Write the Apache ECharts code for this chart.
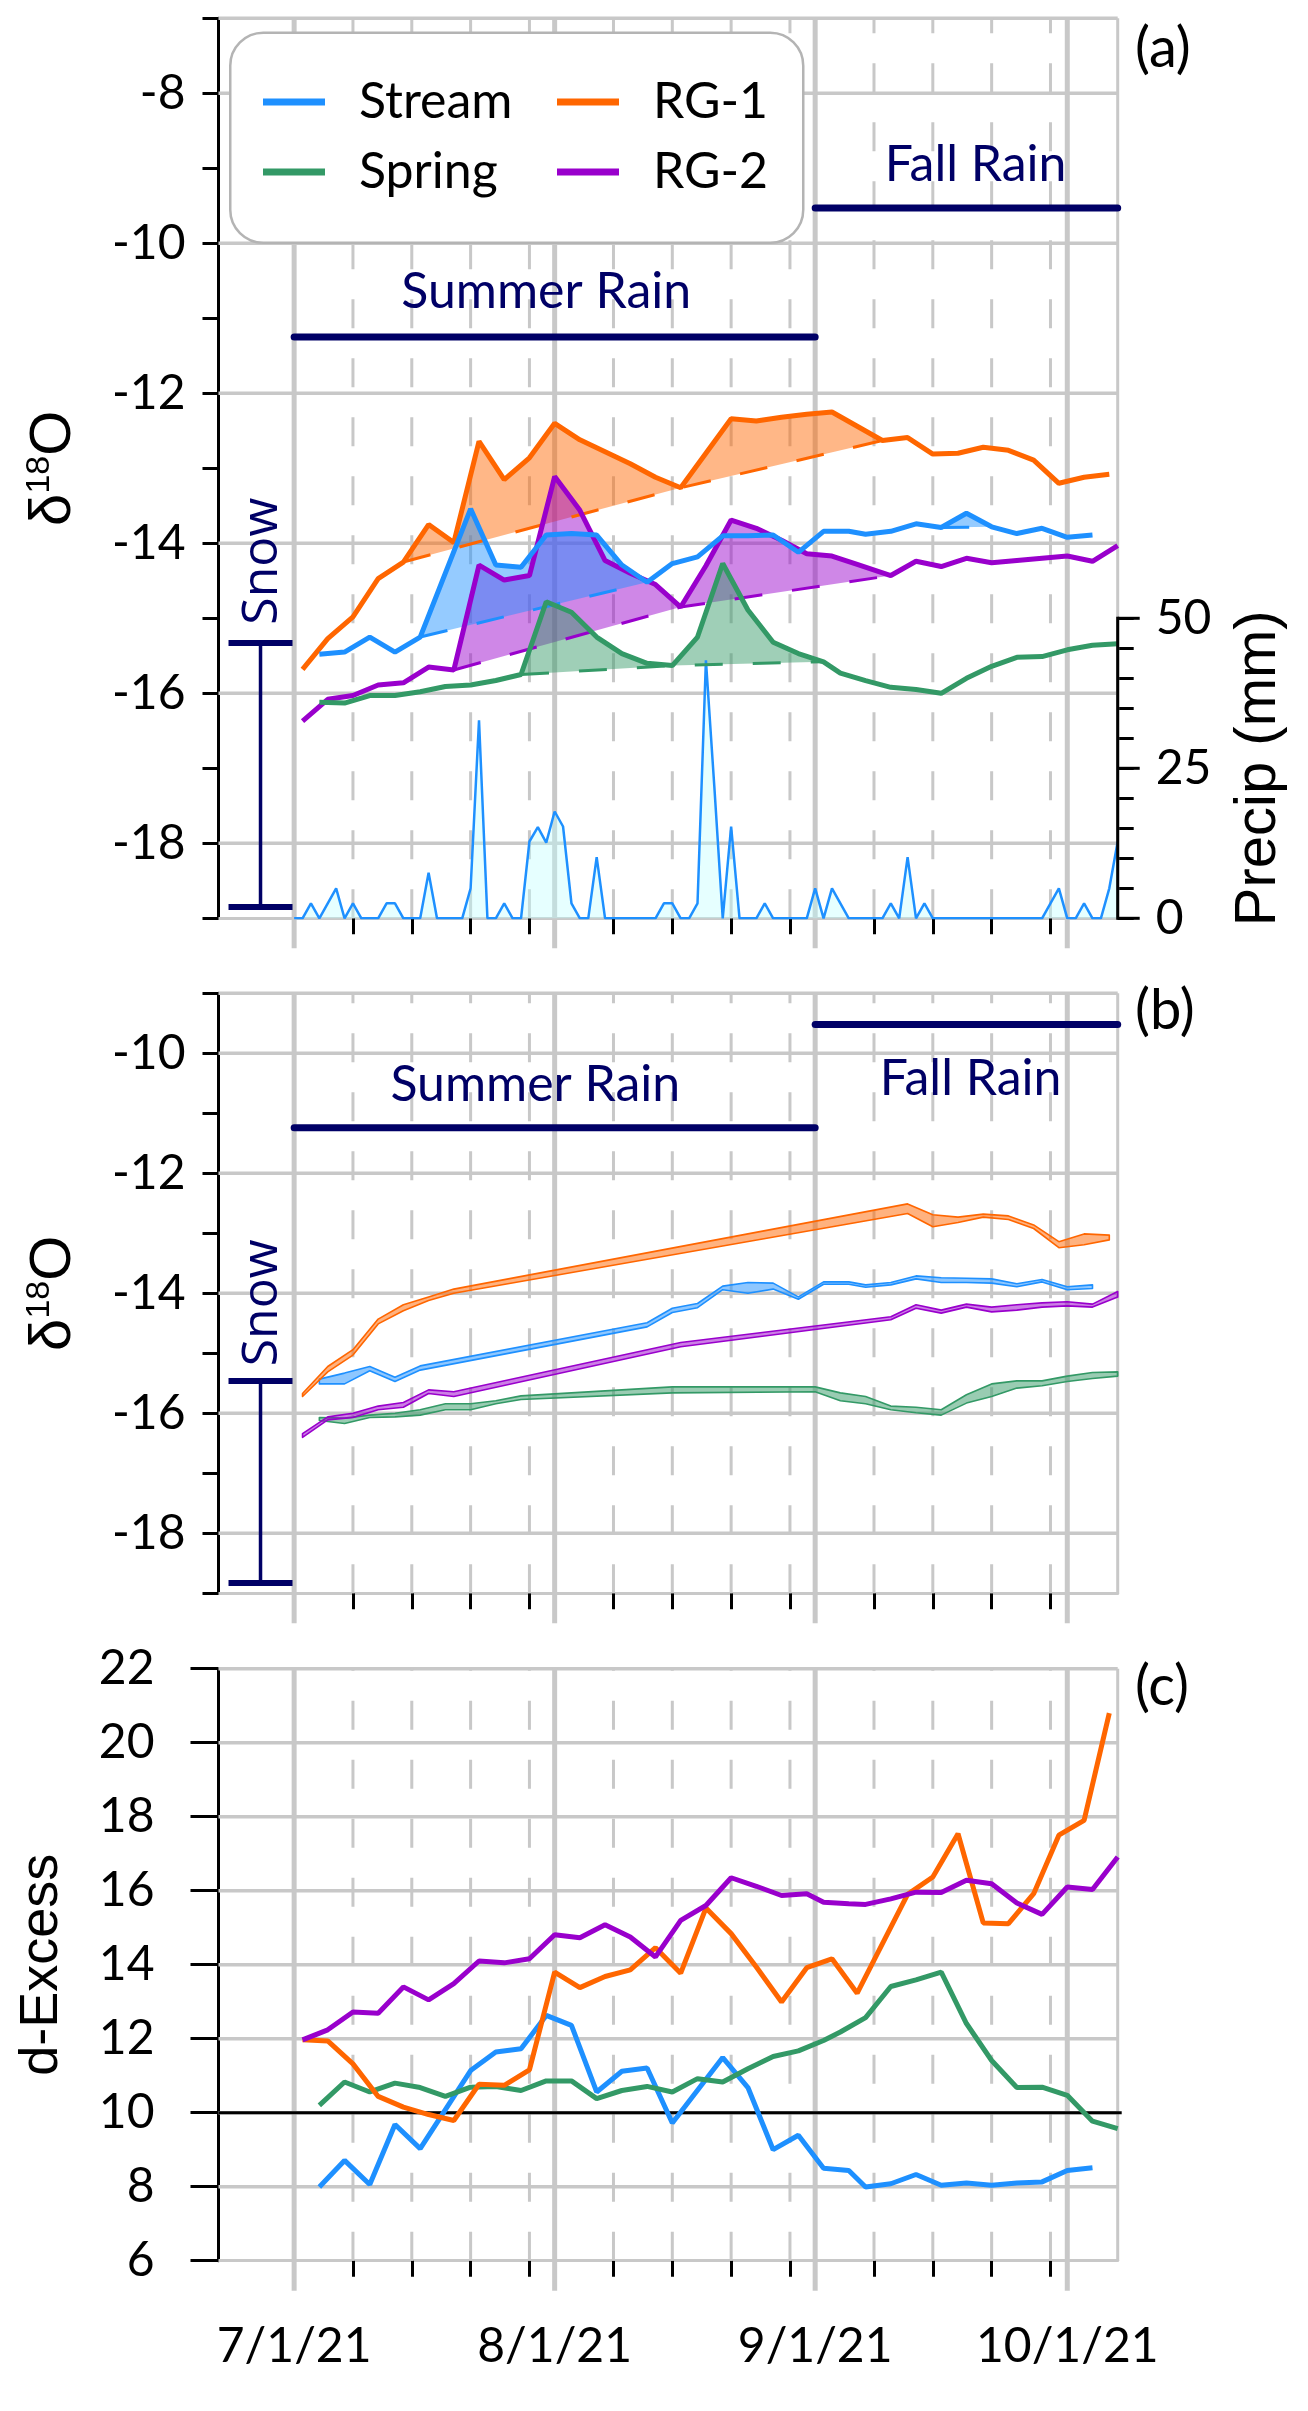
<!DOCTYPE html>
<html><head><meta charset="utf-8">
<script src="https://cdn.jsdelivr.net/npm/echarts@6/dist/echarts.min.js"></script>
<style>html,body{margin:0;padding:0;background:#fff}#chart{width:1308px;height:2411px}</style>
</head><body><div id="chart"></div>
<script>
// ---------- DATA (day 0 = 7/1/21) ----------
const monthDays = [0, 31, 62, 92];
const monthLabels = ['7/1/21', '8/1/21', '9/1/21', '10/1/21'];
const weekTicks = [7, 14, 21, 28, 38, 45, 52, 59, 69, 76, 83, 90];

// Panel (a) d18O
const streamDaysA = [3,6,9,12,15,21,24,27,30,33,36,39,42,45,48,51,54,57,60,63,66,68,71,74,77,80,83,86,89,92,95];
const streamA = [-15.48,-15.45,-15.25,-15.45,-15.25,-13.54,-14.29,-14.32,-13.89,-13.87,-13.89,-14.29,-14.52,-14.27,-14.18,-13.90,-13.90,-13.89,-14.12,-13.84,-13.84,-13.88,-13.84,-13.74,-13.79,-13.60,-13.78,-13.87,-13.80,-13.92,-13.89];
const rg1DaysA = [1,4,7,10,13,16,19,22,25,28,31,34,37,40,43,46,49,52,55,58,61,64,67,70,73,76,79,82,85,88,91,94,97];
const rg1A = [-15.68,-15.27,-14.98,-14.47,-14.25,-13.75,-13.99,-12.64,-13.15,-12.86,-12.40,-12.62,-12.78,-12.94,-13.12,-13.26,-12.80,-12.34,-12.37,-12.32,-12.28,-12.25,-12.44,-12.63,-12.59,-12.81,-12.80,-12.72,-12.76,-12.89,-13.20,-13.12,-13.08];
const rg2DaysA = [1,4,7,10,13,16,19,22,25,28,31,34,37,40,43,46,49,52,55,58,61,64,67,71,74,77,80,83,86,89,92,95,98];
const rg2A = [-16.37,-16.08,-16.03,-15.89,-15.86,-15.65,-15.69,-14.29,-14.49,-14.43,-13.11,-13.56,-14.23,-14.40,-14.55,-14.85,-14.30,-13.69,-13.80,-13.96,-14.14,-14.17,-14.28,-14.43,-14.24,-14.31,-14.20,-14.26,-14.23,-14.20,-14.17,-14.24,-14.03];
const springDaysA = [3,6,9,12,15,18,21,24,27,30,33,36,39,42,45,48,51,54,57,60,63,65,68,71,74,77,80,83,86,89,92,95,98];
const springA = [-16.12,-16.13,-16.03,-16.03,-15.98,-15.91,-15.89,-15.83,-15.75,-14.78,-14.92,-15.25,-15.47,-15.60,-15.63,-15.25,-14.27,-14.89,-15.32,-15.47,-15.58,-15.73,-15.83,-15.92,-15.95,-16.00,-15.80,-15.64,-15.52,-15.51,-15.42,-15.36,-15.34];

// Panel (a) pre-event baselines (dashed)
const rg1BaseDays = [13, 46, 70];   const rg1BaseA = [-14.25, -13.26, -12.63];
const rg2BaseDays = [19, 46, 71];   const rg2BaseA = [-15.69, -14.85, -14.43];
const streamBase1Days = [15, 42];   const streamBase1A = [-15.25, -14.52];
const streamBase2Days = [77, 83];   const streamBase2A = [-13.79, -13.78];
const springBaseDays = [27, 45, 63]; const springBaseA = [-15.75, -15.63, -15.58];

// Daily precipitation (mm), day 0..98
const precip = [0,0,2.5,0,2.5,5,0,2.5,0,0,
  0,2.5,2.5,0,0,0,7.6,0,0,0,
  0,5,33,0,0,2.5,0,0,12.8,15.2,
  12.6,17.8,15.3,2.5,0,0,10.2,0,0,0,
  0,0,0,0,2.5,2.5,0,0,2.5,43,
  22,0,15.3,0,0,0,2.5,0,0,0,
  0,0,5,0,5,2.5,0,0,0,0,
  0,2.5,0,10.2,0,2.5,0,0,0,0,
  0,0,0,0,0,0,0,0,0,0,
  2.5,5,0,0,2.5,0,0,5,12.8];
const precipTicks = [0,5,10,15,20,25,30,35,40,45,50];
const precipLabels = [0, 25, 50];

// Panel (b) event-removed bands (upper / lower)
const rg1DaysB = [1,4,7,10,13,16,19,73,76,79,82,85,88,91,94,97];
const rg1UpB = [-15.67,-15.22,-14.94,-14.43,-14.19,-14.06,-13.93,-12.51,-12.69,-12.73,-12.68,-12.71,-12.86,-13.14,-13.01,-13.03];
const rg1LoB = [-15.72,-15.31,-15.03,-14.51,-14.29,-14.12,-14.00,-12.67,-12.89,-12.82,-12.73,-12.77,-12.92,-13.24,-13.19,-13.11];
const streamDaysB = [3,6,9,12,15,42,45,48,51,54,57,60,63,66,68,71,74,77,80,83,86,89,92,95];
const streamUpB = [-15.43,-15.33,-15.22,-15.40,-15.21,-14.49,-14.25,-14.17,-13.88,-13.82,-13.83,-14.06,-13.81,-13.81,-13.86,-13.82,-13.71,-13.74,-13.75,-13.76,-13.84,-13.77,-13.89,-13.86];
const streamLoB = [-15.51,-15.51,-15.29,-15.47,-15.28,-14.56,-14.32,-14.24,-13.94,-14.00,-13.93,-14.10,-13.85,-13.85,-13.90,-13.86,-13.76,-13.82,-13.82,-13.83,-13.89,-13.81,-13.94,-13.92];
const rg2DaysB = [1,4,7,10,13,16,19,46,71,74,77,80,83,86,89,92,95,98];
const rg2UpB = [-16.34,-16.06,-16.00,-15.88,-15.82,-15.61,-15.64,-14.82,-14.39,-14.19,-14.28,-14.18,-14.23,-14.19,-14.16,-14.14,-14.18,-13.97];
const rg2LoB = [-16.40,-16.11,-16.07,-15.94,-15.90,-15.67,-15.72,-14.89,-14.44,-14.25,-14.33,-14.23,-14.31,-14.28,-14.23,-14.21,-14.23,-14.06];
const springDaysB = [3,6,9,12,15,18,21,24,27,45,62,65,68,71,74,77,80,83,86,89,92,95,98];
const springUpB = [-16.07,-16.08,-16.03,-16.00,-15.94,-15.84,-15.84,-15.79,-15.71,-15.56,-15.56,-15.66,-15.72,-15.88,-15.90,-15.94,-15.69,-15.51,-15.46,-15.46,-15.38,-15.32,-15.31];
const springLoB = [-16.12,-16.17,-16.07,-16.06,-16.03,-15.94,-15.94,-15.84,-15.77,-15.66,-15.64,-15.79,-15.84,-15.94,-15.99,-16.03,-15.83,-15.72,-15.58,-15.54,-15.47,-15.42,-15.38];

// Panel (c) d-excess
const streamDaysC = [3,6,9,12,15,21,24,27,30,33,36,39,42,45,51,54,57,60,63,66,68,71,74,77,80,83,86,89,92,95];
const streamC = [7.99,8.71,8.06,9.68,9.03,11.14,11.64,11.73,12.63,12.36,10.56,11.12,11.21,9.72,11.49,10.68,9.00,9.39,8.50,8.44,7.99,8.08,8.33,8.04,8.10,8.04,8.10,8.13,8.44,8.51];
const springDaysC = [3,6,9,12,15,18,21,24,27,30,33,36,39,42,45,48,51,54,57,60,63,65,68,71,74,77,80,83,86,89,92,95,98];
const springC = [10.20,10.83,10.56,10.80,10.68,10.44,10.69,10.71,10.60,10.86,10.86,10.38,10.60,10.71,10.56,10.92,10.83,11.19,11.52,11.67,11.95,12.18,12.57,13.41,13.59,13.80,12.41,11.41,10.68,10.69,10.47,9.77,9.57];
const rg1DaysC = [1,4,7,10,13,16,19,22,25,28,31,34,37,40,43,46,49,52,55,58,61,64,67,73,76,79,82,85,88,91,94,97];
const rg1C = [11.97,11.94,11.32,10.44,10.15,9.95,9.79,10.77,10.74,11.16,13.80,13.38,13.68,13.86,14.46,13.77,15.53,14.84,13.94,12.99,13.92,14.16,13.23,15.90,16.37,17.54,15.13,15.11,15.92,17.50,17.90,20.80];
const rg2DaysC = [1,4,7,10,13,16,19,22,25,28,31,34,37,40,43,46,49,52,55,58,61,63,66,68,71,74,77,80,83,86,89,92,95,98];
const rg2C = [11.97,12.24,12.72,12.69,13.40,13.05,13.49,14.10,14.05,14.16,14.81,14.73,15.08,14.75,14.21,15.20,15.60,16.35,16.12,15.87,15.92,15.69,15.65,15.63,15.78,15.96,15.95,16.28,16.19,15.67,15.36,16.10,16.03,16.91];
const dExcessRef = 10;

// Annotations
const seasonNames = ['Summer Rain', 'Fall Rain'];
const seasonStart = [0, 62];
const seasonEnd = [62, 98];
const snowDay = -4;
const snowRangeA = [-18.85, -15.33];
const snowRangeB = [-18.83, -15.46];

// ---------- STYLE ----------
const FONT = 'Lato, "Open Sans", sans-serif';
const SANS = '"Liberation Sans", Arial, sans-serif';
const NAVY = '#000066';
const GRID_C = '#c8c8c8';
const COL = {stream: '#1e90ff', spring: '#339966', rg1: '#ff6600', rg2: '#9900cc'};
const X_MIN = -9, X_MAX = 98;

function rgba(hex, a) {
  const n = parseInt(hex.slice(1), 16);
  return 'rgba(' + ((n >> 16) & 255) + ',' + ((n >> 8) & 255) + ',' + (n & 255) + ',' + a + ')';
}
function pairs(d, v) { return d.map((x, i) => [x, v[i]]); }
function ln(x1, y1, x2, y2, stroke, w, dash) {
  const s = {stroke: stroke, lineWidth: w};
  if (dash) s.lineDash = dash;
  return {type: 'line', shape: {x1, y1, x2, y2}, style: s};
}
function txt(x, y, text, opts) {
  return {type: 'text', x: x, y: y, rotation: opts.rot || 0,
    style: {text: text, fill: opts.color || '#000', fontSize: opts.size, fontFamily: opts.family,
      align: 'center', verticalAlign: 'middle', textAlign: 'center', textVerticalAlign: 'middle'}};
}

function decor(gi, yi, yMin, hVals, refVal) {
  return {type: 'custom', xAxisIndex: gi, yAxisIndex: yi, silent: true, clip: false, z: 1,
    data: [[X_MIN, yMin]],
    renderItem: function (p, api) {
      const cs = p.coordSys, top = cs.y, bot = cs.y + cs.height, L = cs.x, R = cs.x + cs.width;
      const ch = [];
      hVals.forEach(v => { const y = api.coord([X_MIN, v])[1]; ch.push(ln(L, y, R, y, GRID_C, 3.5)); });
      weekTicks.forEach(d => { const x = api.coord([d, yMin])[0]; ch.push(ln(x, bot, x, top, GRID_C, 3, [29, 30])); });
      monthDays.forEach(d => { const x = api.coord([d, yMin])[0]; ch.push(ln(x, top, x, bot + 30, GRID_C, 5)); });
      ch.push(ln(R, top, R, bot, GRID_C, 3));
      if (refVal != null) { const y = api.coord([X_MIN, refVal])[1]; ch.push(ln(L, y, R + 4, y, '#000', 3)); }
      return {type: 'group', children: ch};
    }};
}
function lineS(name, gi, yi, days, vals, color, width) {
  return {type: 'line', name: name, xAxisIndex: gi, yAxisIndex: yi, data: pairs(days, vals),
    symbol: 'none', silent: true, lineStyle: {color: color, width: width}, itemStyle: {color: color}, z: 2};
}
function dashS(gi, yi, days, vals, color) {
  return {type: 'line', xAxisIndex: gi, yAxisIndex: yi, data: pairs(days, vals), symbol: 'none', silent: true,
    lineStyle: {color: color, width: 3, type: [28, 30]}, z: 2};
}
function eventFill(gi, yi, days, vals, bDays, bVals, color) {
  return {type: 'custom', xAxisIndex: gi, yAxisIndex: yi, silent: true, z: 2,
    data: [[bDays[0], bVals[0]]],
    renderItem: function (p, api) {
      const s = bDays[0], e = bDays[bDays.length - 1], pts = [];
      days.forEach((d, i) => { if (d >= s && d <= e) pts.push(api.coord([d, vals[i]])); });
      for (let j = bDays.length - 1; j >= 0; j--) pts.push(api.coord([bDays[j], bVals[j]]));
      return {type: 'polygon', shape: {points: pts}, style: {fill: rgba(color, 0.47)}};
    }};
}
function band(gi, yi, days, up, lo, color) {
  return {type: 'custom', xAxisIndex: gi, yAxisIndex: yi, silent: true, z: 2,
    data: [[days[0], up[0]]],
    renderItem: function (p, api) {
      const pts = [];
      days.forEach((d, i) => pts.push(api.coord([d, up[i]])));
      for (let j = days.length - 1; j >= 0; j--) pts.push(api.coord([days[j], lo[j]]));
      return {type: 'polygon', shape: {points: pts}, style: {fill: rgba(color, 0.5), stroke: color, lineWidth: 1.6, lineJoin: 'round'}};
    }};
}
function annot(gi, yi, barY, labelPos, snowRange, snowTextY) {
  return {type: 'custom', xAxisIndex: gi, yAxisIndex: yi, silent: true, clip: false, z: 3,
    data: [[snowDay, snowRange[0]]],
    renderItem: function (p, api) {
      const ch = [];
      seasonNames.forEach((nm, i) => {
        const a = api.coord([seasonStart[i], barY[i]]), b = api.coord([seasonEnd[i], barY[i]]);
        const s = ln(a[0], a[1], b[0], b[1], NAVY, 7); s.style.lineCap = 'round'; ch.push(s);
        const t = api.coord(labelPos[i]);
        ch.push(txt(t[0], t[1], nm, {size: 50, family: FONT, color: NAVY}));
      });
      const lo = api.coord([snowDay, snowRange[0]]), hi = api.coord([snowDay, snowRange[1]]);
      ch.push(ln(lo[0], lo[1], hi[0], hi[1], NAVY, 3.5));
      ch.push(ln(lo[0] - 32, lo[1], lo[0] + 32, lo[1], NAVY, 6));
      ch.push(ln(hi[0] - 32, hi[1], hi[0] + 32, hi[1], NAVY, 6));
      const st = api.coord([snowDay, snowTextY]);
      ch.push(txt(st[0] + 2, st[1], 'Snow', {size: 50, family: '"Open Sans", sans-serif', color: NAVY, rot: Math.PI / 2}));
      return {type: 'group', children: ch};
    }};
}

const labelStyle = {fontSize: 48, fontFamily: FONT, color: '#000'};
function xAx(gi, showLab) {
  return {type: 'value', gridIndex: gi, min: X_MIN, max: X_MAX,
    axisLine: {show: true, onZero: false, lineStyle: {color: GRID_C, width: 3}},
    axisTick: {show: true, customValues: weekTicks, length: 16, lineStyle: {color: '#000', width: 3}},
    axisLabel: Object.assign({show: showLab, customValues: monthDays, margin: 62,
      formatter: v => { const k = monthDays.indexOf(v); return k >= 0 ? monthLabels[k] : ''; }}, labelStyle),
    splitLine: {show: false}};
}
const deltaName = {name: '{n|δ}{s|18}{n|O}', nameLocation: 'middle', nameGap: 134,
  nameTextStyle: {fontFamily: SANS, fontSize: 58, color: '#000',
    rich: {n: {fontFamily: SANS, fontSize: 58, color: '#000', lineHeight: 62},
           s: {fontFamily: SANS, fontSize: 34, color: '#000', lineHeight: 34, verticalAlign: 'top'}}}};

const option = {
  animation: false,
  backgroundColor: '#fff',
  title: [
    {text: '(a)', left: 1130, top: 16, textStyle: {fontSize: 56, fontFamily: FONT, fontWeight: 'normal', color: '#000'}},
    {text: '(b)', left: 1130, top: 978, textStyle: {fontSize: 56, fontFamily: FONT, fontWeight: 'normal', color: '#000'}},
    {text: '(c)', left: 1130, top: 1654, textStyle: {fontSize: 56, fontFamily: FONT, fontWeight: 'normal', color: '#000'}}
  ],
  grid: [
    {left: 218.5, top: 18.3, width: 899.2, height: 900, outerBoundsMode: 'none'},
    {left: 218.5, top: 993.3, width: 899.2, height: 600, outerBoundsMode: 'none'},
    {left: 218.5, top: 1668.7, width: 899.2, height: 592, outerBoundsMode: 'none'}
  ],
  legend: [
    {data: [{name: 'Stream', itemStyle: {color: COL.stream}}, {name: 'Spring', itemStyle: {color: COL.spring}}],
     orient: 'vertical', left: 263, top: 74, padding: 0, itemWidth: 62, itemHeight: 7, icon: 'rect', itemGap: 14,
     selectedMode: false, z: 20, textStyle: {fontSize: 50, fontFamily: FONT, color: '#000', lineHeight: 56, padding: [0, 0, 0, 29]}},
    {data: [{name: 'RG-1', itemStyle: {color: COL.rg1}}, {name: 'RG-2', itemStyle: {color: COL.rg2}}],
     orient: 'vertical', left: 557, top: 74, padding: 0, itemWidth: 62, itemHeight: 7, icon: 'rect', itemGap: 14,
     selectedMode: false, z: 20, textStyle: {fontSize: 50, fontFamily: FONT, color: '#000', lineHeight: 56, padding: [0, 0, 0, 29]}}
  ],
  graphic: [
    {type: 'rect', left: 229, top: 31.5, z: 15, shape: {width: 573, height: 210, r: 33},
     style: {fill: '#fff', stroke: '#b4b4b4', lineWidth: 2.5}}
  ],
  xAxis: [xAx(0, false), xAx(1, false), xAx(2, true)],
  yAxis: [
    Object.assign({type: 'value', gridIndex: 0, min: -19, max: -7, interval: 1, position: 'left',
      axisLine: {show: true, onZero: false, lineStyle: {color: '#000', width: 3}},
      axisTick: {show: true, length: 16, lineStyle: {color: '#000', width: 3}},
      axisLabel: Object.assign({customValues: [-18, -16, -14, -12, -10, -8], margin: 33}, labelStyle),
      splitLine: {show: false}}, deltaName),
    {type: 'value', gridIndex: 0, min: 0, max: 150, position: 'right',
      axisLine: {show: false, onZero: false},
      axisTick: {show: true, customValues: precipTicks, length: 16, lineStyle: {color: '#000', width: 3}},
      axisLabel: Object.assign({customValues: precipLabels, margin: 38}, labelStyle),
      splitLine: {show: false}},
    Object.assign({type: 'value', gridIndex: 1, min: -19, max: -9, interval: 1, position: 'left',
      axisLine: {show: true, onZero: false, lineStyle: {color: '#000', width: 3}},
      axisTick: {show: true, length: 16, lineStyle: {color: '#000', width: 3}},
      axisLabel: Object.assign({customValues: [-18, -16, -14, -12, -10], margin: 33}, labelStyle),
      splitLine: {show: false}}, deltaName),
    {type: 'value', gridIndex: 2, min: 6, max: 22, interval: 2, position: 'left',
      axisLine: {show: true, onZero: false, lineStyle: {color: '#000', width: 3}},
      axisTick: {show: true, length: 28, lineStyle: {color: '#000', width: 3}},
      axisLabel: Object.assign({margin: 64}, labelStyle),
      splitLine: {show: false},
      name: 'd-Excess', nameLocation: 'middle', nameGap: 148,
      nameTextStyle: {fontFamily: SANS, fontSize: 54, color: '#000', lineHeight: 56}}
  ],
  series: [
    // ---- panel (a)
    decor(0, 0, -19, [-18, -16, -14, -12, -10, -8, -7], null),
    {type: 'line', xAxisIndex: 0, yAxisIndex: 1, data: precip.map((v, i) => [i, v]), symbol: 'none', silent: true,
     lineStyle: {color: '#1e90ff', width: 2.5}, areaStyle: {color: 'rgba(190,255,255,0.55)'}, z: 2},
    {type: 'custom', xAxisIndex: 0, yAxisIndex: 1, silent: true, clip: false, z: 3, data: [[X_MAX, 0]],
     renderItem: function (p, api) {
       const a = api.coord([X_MAX, precipTicks[0]]), b = api.coord([X_MAX, precipTicks[precipTicks.length - 1]]);
       const m = api.coord([X_MAX, precipLabels[1]]);
       const ch = [ln(a[0], a[1] + 1.5, b[0], b[1] - 1.5, '#000', 3)];
       precipLabels.forEach(v => { const q = api.coord([X_MAX, v]); ch.push(ln(q[0], q[1], q[0] + 22, q[1], '#000', 3)); });
       ch.push(txt(m[0] + 141, m[1], 'Precip (mm)', {size: 58, family: SANS, rot: Math.PI / 2}));
       return {type: 'group', children: ch};
     }},
    eventFill(0, 0, rg1DaysA, rg1A, rg1BaseDays, rg1BaseA, COL.rg1),
    dashS(0, 0, rg1BaseDays, rg1BaseA, COL.rg1),
    lineS('RG-1', 0, 0, rg1DaysA, rg1A, COL.rg1, 5),
    eventFill(0, 0, rg2DaysA, rg2A, rg2BaseDays, rg2BaseA, COL.rg2),
    dashS(0, 0, rg2BaseDays, rg2BaseA, COL.rg2),
    lineS('RG-2', 0, 0, rg2DaysA, rg2A, COL.rg2, 5),
    eventFill(0, 0, streamDaysA, streamA, streamBase1Days, streamBase1A, COL.stream),
    eventFill(0, 0, streamDaysA, streamA, streamBase2Days, streamBase2A, COL.stream),
    dashS(0, 0, streamBase1Days, streamBase1A, COL.stream),
    dashS(0, 0, streamBase2Days, streamBase2A, COL.stream),
    lineS('Stream', 0, 0, streamDaysA, streamA, COL.stream, 5),
    eventFill(0, 0, springDaysA, springA, springBaseDays, springBaseA, COL.spring),
    dashS(0, 0, springBaseDays, springBaseA, COL.spring),
    lineS('Spring', 0, 0, springDaysA, springA, COL.spring, 5),
    annot(0, 0, [-11.25, -9.53], [[30.0, -10.65], [81.1, -8.96]], snowRangeA, -14.24),
    // ---- panel (b)
    decor(1, 2, -19, [-18, -16, -14, -12, -10, -9], null),
    band(1, 2, springDaysB, springUpB, springLoB, COL.spring),
    band(1, 2, rg2DaysB, rg2UpB, rg2LoB, COL.rg2),
    band(1, 2, streamDaysB, streamUpB, streamLoB, COL.stream),
    band(1, 2, rg1DaysB, rg1UpB, rg1LoB, COL.rg1),
    annot(1, 2, [-11.24, -9.52], [[28.7, -10.53], [80.5, -10.42]], snowRangeB, -14.16),
    // ---- panel (c)
    decor(2, 3, 6, [8, 10, 12, 14, 16, 18, 20, 22], dExcessRef),
    lineS('Stream', 2, 3, streamDaysC, streamC, COL.stream, 5),
    lineS('Spring', 2, 3, springDaysC, springC, COL.spring, 5),
    lineS('RG-1', 2, 3, rg1DaysC, rg1C, COL.rg1, 5),
    lineS('RG-2', 2, 3, rg2DaysC, rg2C, COL.rg2, 5)
  ]
};
const chart = echarts.init(document.getElementById('chart'), null, {renderer: 'canvas'});
chart.setOption(option);
</script></body></html>
